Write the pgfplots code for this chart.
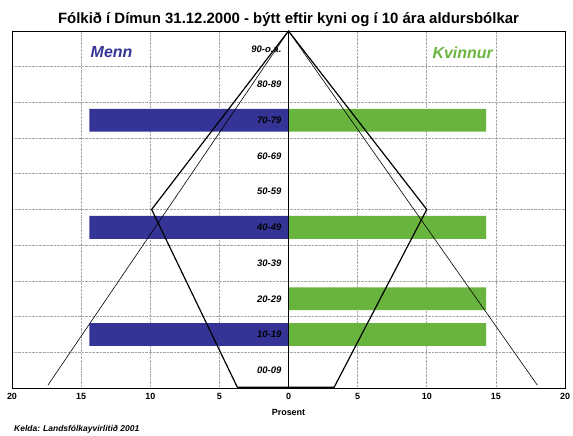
\documentclass[border=0pt]{standalone}
\usepackage{fontspec}
\setmainfont{Liberation Sans}
\usepackage{pgfplots}
\pgfplotsset{compat=1.18}
\usetikzlibrary{calc}

\definecolor{menn}{RGB}{52,52,150}
\definecolor{kvinnur}{RGB}{104,180,62}

\begin{document}
\begin{tikzpicture}
\begin{axis}[
  name=ax,
  width=553bp, height=357bp, scale only axis,
  xmin=-20, xmax=20, ymin=0, ymax=100,
  xtick={-20,-15,...,20},
  ytick={0,10,...,100}, yticklabels={},
  xticklabel={\pgfmathparse{abs(\tick)}\pgfmathprintnumber{\pgfmathresult}},
  /pgf/number format/assume math mode=true,
  ticklabel style={font=\fontsize{9}{10}\selectfont\bfseries},
  xticklabel style={yshift=-2bp},
  major tick length=0pt,
  grid=major,
  grid style={gray!70, densely dotted, line width=0.7pt},
  axis line style={black, line width=0.9pt},
  xlabel={Prosent},
  xlabel style={font=\fontsize{9}{10}\selectfont\bfseries, yshift=-3bp},
  title={Fólkið í Dímun 31.12.2000 - býtt eftir kyni og í 10 ára aldursbólkar},
  title style={font=\fontsize{15}{17}\selectfont\bfseries, yshift=-5bp},
  clip=true,
]
% Menn
\addplot[xbar, bar width=6.4, bar shift=0pt, fill=menn, draw=none] coordinates {
  (-14.4,75) (-14.4,45) (-14.4,15)
};
% Kvinnur
\addplot[xbar, bar width=6.4, bar shift=0pt, fill=kvinnur, draw=none] coordinates {
  (14.3,75) (14.3,45) (14.3,25) (14.3,15)
};
% centre line
\addplot[black, line width=1pt] coordinates {(0,0) (0,100)};
% comparison outlines
\addplot[black, line width=0.6pt] coordinates {(-17.4,0.8) (0,100) (18,0.8)};
\addplot[black, line width=1.2pt] coordinates {(-3.7,0.2) (-9.9,50) (0,100) (10,50) (3.3,0.2) (-3.7,0.2)};

\foreach \a/\lab in {95/90-o.a., 85/80-89, 75/70-79, 65/60-69, 55/50-59, 45/40-49, 35/30-39, 25/20-29, 15/10-19, 5/00-09}{
  \edef\tmp{\noexpand\node[anchor=east, font=\noexpand\fontsize{9.5}{10}\noexpand\selectfont\noexpand\bfseries\noexpand\itshape, inner sep=0pt] at (axis cs:-0.5,\a) {\lab};}
  \tmp
}
\node[font=\fontsize{16}{18}\selectfont\bfseries\itshape, text=menn] at (axis cs:-12.8,94) {Menn};
\node[font=\fontsize{16}{18}\selectfont\bfseries\itshape, text=kvinnur] at (axis cs:12.6,94) {Kvinnur};
\end{axis}
\node[anchor=west, font=\fontsize{8.5}{9}\selectfont\bfseries\itshape, inner sep=0pt] at ($(ax.south west)+(2bp,-41bp)$) {Kelda: Landsfólkayvirlitið 2001};
\pgfresetboundingbox
\path[use as bounding box] ($(ax.south west)+(-12bp,-48bp)$) rectangle ($(ax.north east)+(8bp,31bp)$);
\end{tikzpicture}
\end{document}
